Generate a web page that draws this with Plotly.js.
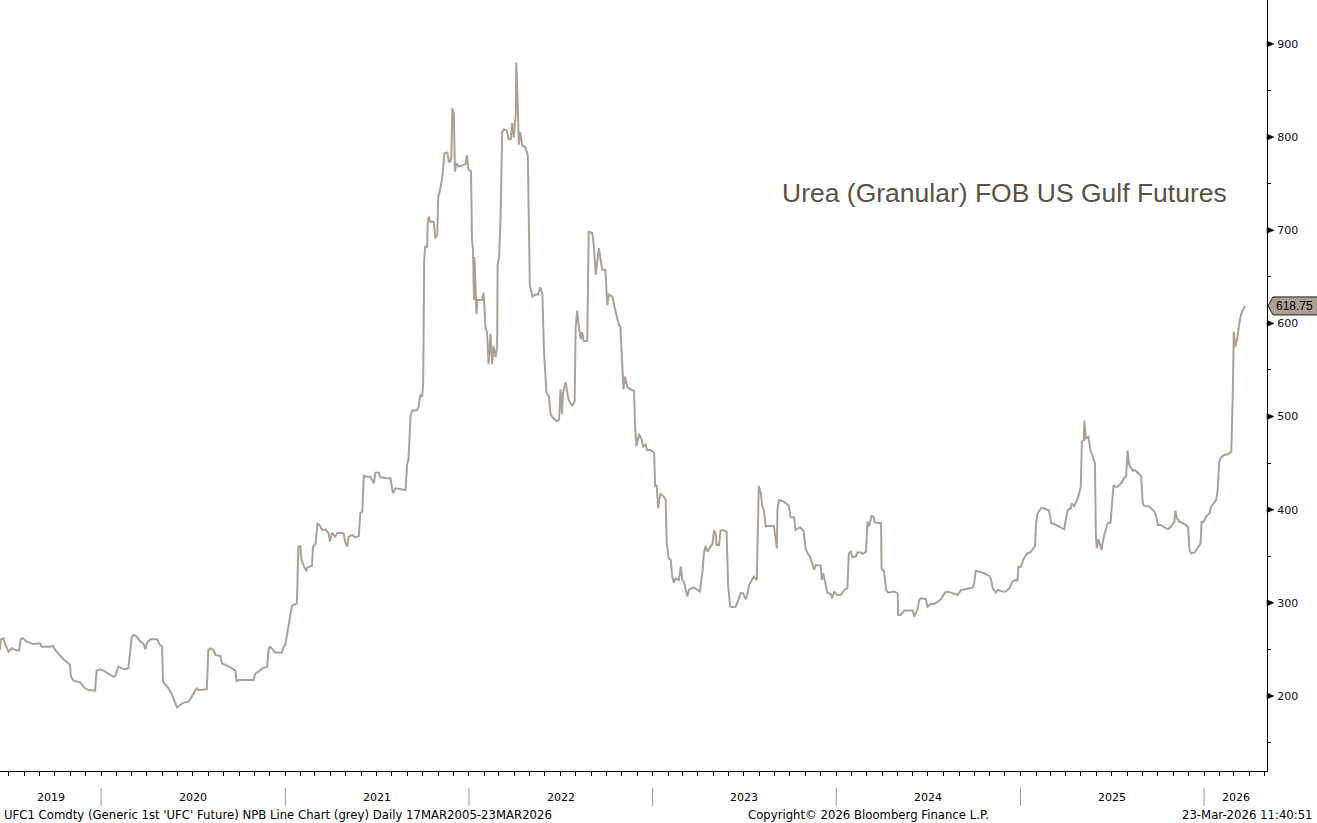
<!DOCTYPE html>
<html>
<head>
<meta charset="utf-8">
<script src="https://cdn.plot.ly/plotly-3.0.1.min.js"></script>
<style>
  html, body { margin: 0; padding: 0; background: #ffffff; }
  #chart { width: 1317px; height: 823px; }
</style>
</head>
<body>
<div id="chart"></div>
<script>
// ---- data ----
const dates = ["2019-06-14","2019-06-16","2019-06-21","2019-06-24","2019-07-01","2019-07-07","2019-07-14","2019-07-22","2019-07-25","2019-07-29","2019-08-06","2019-08-19","2019-09-02","2019-09-05","2019-09-22","2019-09-28","2019-10-01","2019-10-08","2019-10-18","2019-10-28","2019-10-31","2019-11-02","2019-11-07","2019-11-20","2019-11-30","2019-12-07","2019-12-20","2019-12-23","2019-12-30",
"2020-01-06","2020-01-19","2020-01-25","2020-01-29","2020-02-04","2020-02-11","2020-02-18","2020-02-24","2020-02-28","2020-03-02","2020-03-05","2020-03-12","2020-03-19","2020-03-25","2020-03-29","2020-04-01","2020-04-08","2020-04-21","2020-04-27","2020-05-01","2020-05-03","2020-05-14","2020-05-21","2020-05-27","2020-05-31","2020-06-06","2020-06-13","2020-06-23","2020-06-29","2020-07-09","2020-07-13","2020-07-29","2020-08-01","2020-08-05","2020-08-11","2020-08-15","2020-08-25","2020-08-28","2020-09-14","2020-09-24","2020-09-26","2020-09-30","2020-10-30","2020-11-02","2020-11-12","2020-11-16","2020-11-26","2020-11-29","2020-12-02","2020-12-12","2020-12-25","2020-12-29",
"2021-01-01","2021-01-04","2021-01-08","2021-01-11","2021-01-14","2021-01-24","2021-01-27","2021-01-31","2021-02-02","2021-02-08","2021-02-12","2021-02-14","2021-02-23","2021-02-25","2021-03-02","2021-03-06","2021-03-10","2021-03-15","2021-03-22","2021-03-28","2021-03-31","2021-04-04","2021-04-10","2021-04-14","2021-04-20","2021-04-27","2021-04-30","2021-05-04","2021-05-07","2021-05-14","2021-05-20","2021-05-27","2021-05-30","2021-06-03","2021-06-06","2021-06-09","2021-06-19","2021-06-26","2021-06-29","2021-07-06","2021-07-09","2021-07-22","2021-07-29","2021-08-03","2021-08-08","2021-08-28","2021-08-31","2021-09-03","2021-09-07","2021-09-10","2021-09-20","2021-09-23","2021-09-26","2021-09-30","2021-10-02","2021-10-03","2021-10-04","2021-10-06","2021-10-10","2021-10-11","2021-10-13","2021-10-16","2021-10-23","2021-10-26","2021-10-30","2021-11-01","2021-11-03","2021-11-07","2021-11-10","2021-11-13","2021-11-19","2021-11-22","2021-11-25","2021-11-27","2021-11-29","2021-12-02","2021-12-04","2021-12-07","2021-12-12","2021-12-25","2021-12-28","2021-12-31",
"2022-01-05","2022-01-07","2022-01-09","2022-01-11","2022-01-12","2022-01-16","2022-01-18","2022-01-27","2022-01-30","2022-02-03","2022-02-06","2022-02-09","2022-02-13","2022-02-16","2022-02-19","2022-02-23","2022-02-26","2022-02-27","2022-03-02","2022-03-05","2022-03-08","2022-03-11","2022-03-17","2022-03-21","2022-03-25","2022-03-28","2022-03-31","2022-04-04","2022-04-05","2022-04-08","2022-04-10","2022-04-13","2022-04-17","2022-04-23","2022-04-28","2022-05-02","2022-05-07","2022-05-13","2022-05-18","2022-05-23","2022-05-27","2022-05-30","2022-06-04","2022-06-09","2022-06-12","2022-06-17","2022-06-25","2022-06-29","2022-07-02","2022-07-05","2022-07-07","2022-07-12","2022-07-18","2022-07-25","2022-07-30","2022-08-01","2022-08-04","2022-08-07","2022-08-11","2022-08-14","2022-08-17","2022-08-24","2022-08-27","2022-09-03","2022-09-06","2022-09-10","2022-09-13","2022-09-16","2022-09-20","2022-09-23","2022-09-29","2022-10-03","2022-10-06","2022-10-13","2022-10-19","2022-10-26","2022-10-29","2022-11-02","2022-11-04","2022-11-07","2022-11-12","2022-11-25","2022-11-27","2022-11-30","2022-12-05","2022-12-10","2022-12-13","2022-12-18","2022-12-21","2022-12-28",
"2023-01-04","2023-01-06","2023-01-09","2023-01-12","2023-01-14","2023-01-17","2023-01-23","2023-01-27","2023-01-29","2023-02-02","2023-02-06","2023-02-09","2023-02-12","2023-02-16","2023-02-22","2023-02-26","2023-03-01","2023-03-04","2023-03-08","2023-03-11","2023-03-14","2023-03-24","2023-03-31","2023-04-05","2023-04-10","2023-04-13","2023-04-16","2023-04-20","2023-04-26","2023-04-30","2023-05-03","2023-05-06","2023-05-08","2023-05-13","2023-05-16","2023-05-20","2023-05-28","2023-05-31","2023-06-04","2023-06-08","2023-06-15","2023-06-18","2023-06-25","2023-06-30","2023-07-05","2023-07-08","2023-07-12","2023-07-18","2023-07-21","2023-07-27","2023-07-29","2023-07-31","2023-08-04","2023-08-07","2023-08-10","2023-08-14","2023-08-20","2023-08-30","2023-09-05","2023-09-06","2023-09-09","2023-09-16","2023-09-23","2023-09-29","2023-10-02","2023-10-09","2023-10-12","2023-10-21","2023-10-28","2023-11-01","2023-11-05","2023-11-10","2023-11-15","2023-11-18","2023-11-21","2023-12-01","2023-12-03","2023-12-06","2023-12-11","2023-12-14","2023-12-21","2023-12-24","2023-12-28",
"2024-01-03","2024-01-10","2024-01-17","2024-01-23","2024-01-26","2024-01-30","2024-02-02","2024-02-09","2024-02-12","2024-02-19","2024-02-22","2024-02-29","2024-03-03","2024-03-06","2024-03-11","2024-03-15","2024-03-18","2024-03-30","2024-03-31","2024-04-05","2024-04-09","2024-04-13","2024-04-25","2024-05-02","2024-05-03","2024-05-08","2024-05-15","2024-05-25","2024-06-01","2024-06-04","2024-06-07","2024-06-10","2024-06-14","2024-06-17","2024-06-27","2024-06-30","2024-07-07","2024-07-14","2024-07-27","2024-08-01","2024-08-04","2024-08-09","2024-08-19","2024-08-29","2024-09-05","2024-09-11","2024-09-28","2024-10-01","2024-10-04","2024-10-11","2024-10-21","2024-10-31","2024-11-03","2024-11-07","2024-11-13","2024-11-17","2024-11-27","2024-12-03","2024-12-10","2024-12-16","2024-12-23","2024-12-26","2024-12-28",
"2025-01-02","2025-01-07","2025-01-12","2025-01-15","2025-01-22","2025-01-30","2025-02-01","2025-02-04","2025-02-11","2025-02-17","2025-02-27","2025-03-03","2025-03-09","2025-03-19","2025-03-29","2025-04-01","2025-04-05","2025-04-11","2025-04-13","2025-04-18","2025-04-21","2025-04-25","2025-05-01","2025-05-03","2025-05-07","2025-05-08","2025-05-11","2025-05-16","2025-05-20","2025-05-25","2025-05-29","2025-05-31","2025-06-02","2025-06-05","2025-06-11","2025-06-15","2025-06-23","2025-06-29","2025-07-01","2025-07-05","2025-07-08","2025-07-13","2025-07-20","2025-07-26","2025-07-30","2025-08-01","2025-08-02","2025-08-05","2025-08-12","2025-08-15","2025-08-22","2025-08-29","2025-09-01","2025-09-04","2025-09-14","2025-09-24","2025-09-28","2025-10-01","2025-10-07","2025-10-14","2025-10-21","2025-10-27","2025-11-03","2025-11-05","2025-11-08","2025-11-13","2025-11-20","2025-11-30","2025-12-03","2025-12-06","2025-12-13","2025-12-19","2025-12-25","2025-12-27","2025-12-31",
"2026-01-05","2026-01-12","2026-01-14","2026-01-18","2026-01-25","2026-01-28","2026-01-31","2026-02-04","2026-02-10","2026-02-17","2026-02-24","2026-02-27","2026-03-01","2026-03-04","2026-03-08","2026-03-12","2026-03-16","2026-03-23"];

const prices = [249.3,260.8,261.9,255.8,247.5,251.1,249.3,248.6,260.8,261.9,258.3,255.8,256.5,252.9,252.9,253.6,250,245.7,239.3,235,233.2,220.7,216.4,214.6,208.2,206.4,205.7,227.1,228.6,
227.1,222.5,220.7,221.4,231.4,229.6,228.6,229.6,245.7,263.7,265.5,263.7,258.3,256.5,250,257.2,260.8,260.8,254.7,252.9,215.3,208.2,201,193.9,187.4,190.3,192.8,193.9,199.2,208.2,206.4,207.1,249.3,251.1,249.3,244,242.9,235,230.7,227.1,215.3,217.1,217.1,223.6,227.1,229.6,231.4,251.1,252.9,246.5,246.5,252.9,
254.7,263.7,279.8,286.9,296.6,299.4,360,361,346,338,334,338,339.5,360,363,385,383.6,378.2,378.9,374.6,365.6,375.3,371,374.6,375.3,374.6,365.6,360.3,371,372.8,370.3,371.7,396.1,397.9,437.2,435.4,435.4,428.3,439.7,439.7,434.7,433.7,433.7,417.5,422.9,421.1,448,455.1,501.7,506.3,507,510.6,523.1,521.3,535.7,600.1,668.1,682.4,682.4,707.4,714.6,709.2,709.2,691.3,694.9,736.1,739.7,750.4,761.1,782.6,783.3,773.6,773.6,779,830.9,825.5,762.9,771.9,768.3,770.9,780.4,765.1,
763.2,690.3,678.8,625.2,671.2,609.8,625.2,625.2,632.8,594.5,590.6,556.1,588.7,556.1,575.3,563.8,575.3,663.5,671.2,717.2,805.4,808.4,807.3,797.7,797.7,815,799.6,824.5,880.1,836,791.9,805.4,790.8,789.3,780.4,640.5,629,630.9,630.9,638.6,630.9,571.5,525.5,521.6,502.5,498.6,494.8,496.7,529.3,502.5,525.5,537,517.8,512,515.9,594.5,613.6,598.3,583,590.6,581.1,581.1,698,697.2,684.6,652,663.5,680.7,667.3,657.7,657.7,619.4,630.9,629,613.6,598.3,596.4,560,529.3,542.7,531.2,527.4,491,467.9,481.3,475.6,467.9,469.9,464.1,464.1,
460.5,424.7,426.5,401.5,410.4,416.8,414,410.4,363.9,347.8,346,328.1,321.7,326.3,324.5,338.8,324.5,322.7,312,306.6,313.8,316.6,313.8,312,333.5,353.2,361,354.9,360.3,363.2,378.2,374.6,362.1,362.1,377.5,378.2,376.4,319.2,295.9,295.2,295.9,299.5,310.2,310.2,303.8,308.4,319.2,324.5,328.1,324.5,367.5,425.4,417.6,403.3,399.7,381.8,382.5,382.5,358.5,399.7,410.4,409.3,406.8,404,391.8,391.8,378.2,381.1,377.1,358.5,353.2,349.6,340.6,335.3,340.6,339.9,324.5,331.7,319.2,310.9,309.5,304.8,312,
308.4,308.4,313.8,315.6,353.2,354.9,348.9,349.6,353.9,353.9,352.4,354.9,387.1,381.8,393.2,392.5,386.1,385.4,337,333.5,313.8,310.9,312,310.2,286.9,286.9,291.6,291.6,291.6,285.2,288.7,292.3,303.1,304.8,304.1,295.9,298.8,298.8,303.8,308.4,310.9,312,310.2,308.4,313.8,314.5,316.3,320.9,334.2,333.5,331.7,328.8,326.3,315.6,310.9,313.8,312,312,315.6,322.7,324.5,323.8,338.8,
338.8,346.7,351.3,353.1,354.9,361,385.4,396.1,401.5,401.5,399,385.4,384.6,381.8,378.9,388.9,399.7,401.5,406.8,404,407.6,412.2,424.7,473,474.8,495.6,476.6,478.4,464.1,456.9,449.8,371,358.5,368.2,356.7,369.3,385.4,386.1,403.3,426.5,424.7,424.7,428.3,433.7,435.5,462.3,463.4,448,441.9,442.6,439.8,435.5,406.8,404,403.3,397.9,392.5,383.6,383.6,381.1,378.9,381.8,387.1,398.9,390.7,387.1,385.4,381.8,356.7,353.1,353.9,358.5,363.9,387.1,387.1,
392.5,396.1,402.5,405.1,410.4,421.1,451.6,456.2,458.7,459.4,462.3,523.1,591.1,575,584,600.1,610.8,618.75];

const yearLabels = ["2019","2020","2021","2022","2023","2024","2025","2026"];
const yTickValues = [200, 300, 400, 500, 600, 700, 800, 900];
const xRange = ["2019-06-14", "2026-05-06"];
const yRange = [119.4, 947.2];
const lastValue = prices[prices.length - 1];
const lastValueText = lastValue.toFixed(2);

const titleText = "Urea (Granular) FOB US Gulf Futures";
const footerLeft = "UFC1 Comdty (Generic 1st 'UFC' Future) NPB Line Chart (grey) Daily 17MAR2005-23MAR2026";
const footerCenter = "Copyright\u00A9 2026 Bloomberg Finance L.P.";
const footerRight = "23-Mar-2026 11:40:51";

// ---- styles ----
const lineColor = "#aba197";
const textFont = "DejaVu Sans, Liberation Sans, sans-serif";

// ---- derived layout items ----
const r0 = new Date(xRange[0] + "T00:00:00Z").getTime();
const r1 = new Date(xRange[1] + "T00:00:00Z").getTime();
function iso(ms) { return new Date(ms).toISOString().slice(0, 19).replace("T", " "); }

const annotations = [];
const shapes = [];

yearLabels.forEach(function (yl) {
  const y = parseInt(yl, 10);
  const s = Date.UTC(y, 0, 1), e = Date.UTC(y + 1, 0, 1);
  const a = Math.max(s, r0), b = Math.min(e, r1);
  annotations.push({
    xref: "x", yref: "paper", x: iso((a + b) / 2), y: 0,
    yanchor: "middle", xanchor: "center", yshift: -26,
    text: yl, showarrow: false,
    font: { family: textFont, size: 11, color: "#000000" }
  });
  if (s > r0 && s < r1) {
    shapes.push({
      type: "line", xref: "x", yref: "paper", x0: iso(s), x1: iso(s),
      ysizemode: "pixel", yanchor: 0, y0: -17, y1: -35,
      line: { color: "#9a9a9a", width: 1 }
    });
  }
});

// arrow markers on the right axis at each labelled value
yTickValues.forEach(function (v) {
  shapes.push({
    type: "path", xref: "paper", yref: "y",
    xsizemode: "pixel", xanchor: 1, ysizemode: "pixel", yanchor: v,
    path: "M0,-3 L7,0 L0,3 Z",
    fillcolor: "#000000", line: { color: "#000000", width: 0.5 }, layer: "above"
  });
});

// last value tag
shapes.push({
  type: "path", xref: "paper", yref: "y",
  xsizemode: "pixel", xanchor: 1, ysizemode: "pixel", yanchor: lastValue,
  path: "M1,0 L6,-9 L60,-9 L60,9 L6,9 Z",
  fillcolor: "#a99f95", line: { color: "#222222", width: 1 }, layer: "above"
});
annotations.push({
  xref: "paper", yref: "y", x: 1, y: lastValue, xanchor: "left", yanchor: "middle",
  xshift: 7, text: lastValueText, showarrow: false,
  font: { family: "Liberation Sans, Arial, sans-serif", size: 12, color: "#000000" }
});

// title
annotations.push({
  xref: "paper", yref: "paper", x: 1229 / 1267, y: 1 - 193 / 771,
  xanchor: "right", yanchor: "middle", text: titleText, showarrow: false,
  font: { family: "Liberation Sans Narrow, Liberation Sans, sans-serif", size: 26.5, color: "#5c5046" }
});

// footer
const footerFont = { family: textFont, size: 11.7, color: "#000000" };
annotations.push({
  xref: "paper", yref: "paper", x: 2 / 1267, y: 0, yshift: -44,
  xanchor: "left", yanchor: "middle", text: footerLeft, showarrow: false,
  font: footerFont
});
annotations.push({
  xref: "paper", yref: "paper", x: 868 / 1267, y: 0, yshift: -44,
  xanchor: "center", yanchor: "middle", text: footerCenter, showarrow: false,
  font: footerFont
});
annotations.push({
  xref: "paper", yref: "paper", x: 1315 / 1267, y: 0, yshift: -44,
  xanchor: "right", yanchor: "middle", text: footerRight, showarrow: false,
  font: footerFont
});

const trace = {
  x: dates, y: prices, type: "scatter", mode: "lines",
  line: { color: lineColor, width: 2 },
  hoverinfo: "skip"
};

const layout = {
  width: 1317, height: 823,
  margin: { l: 0, r: 50, t: 0, b: 52, pad: 0 },
  paper_bgcolor: "#ffffff", plot_bgcolor: "#ffffff",
  showlegend: false,
  xaxis: {
    type: "date", range: xRange, autorange: false,
    showgrid: false, zeroline: false,
    showline: true, linecolor: "#000000", linewidth: 1,
    ticks: "outside", ticklen: 4, tickcolor: "#000000", tickwidth: 1,
    tickmode: "linear", tick0: "2019-01-01", dtick: "M1",
    showticklabels: false
  },
  yaxis: {
    side: "right", range: yRange, autorange: false,
    showgrid: false, zeroline: false,
    showline: true, linecolor: "#000000", linewidth: 1,
    tickmode: "array", tickvals: yTickValues,
    ticks: "outside", ticklen: 7, tickcolor: "rgba(0,0,0,0)",
    tickfont: { family: textFont, size: 11, color: "#0a0a28" },
    minor: { dtick: 50, tick0: 0, ticks: "outside", ticklen: 3, tickcolor: "#000000", showgrid: false }
  },
  annotations: annotations,
  shapes: shapes
};

Plotly.newPlot("chart", [trace], layout, { displayModeBar: false, staticPlot: true });
</script>
</body>
</html>
